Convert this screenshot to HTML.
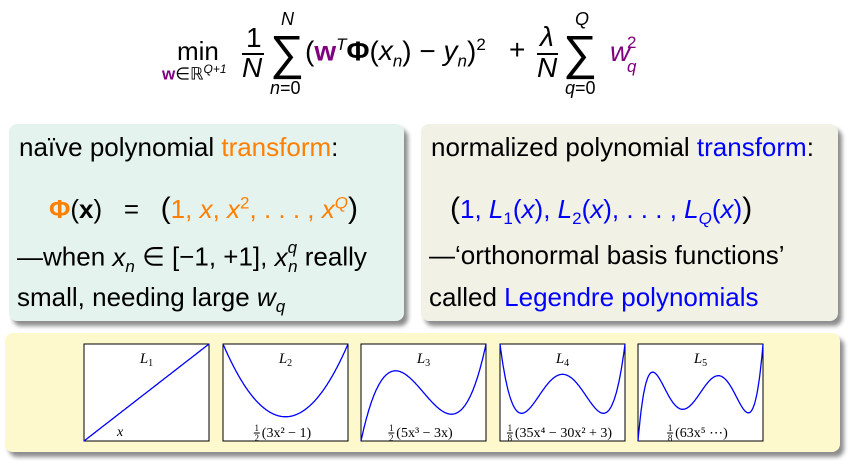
<!DOCTYPE html>
<html><head><meta charset="utf-8"><style>
body{margin:0;width:852px;height:468px;background:#fff;position:relative;overflow:hidden;font-family:"Liberation Sans",sans-serif;}
.a{position:absolute;white-space:nowrap;line-height:1;}
.f{font-size:28px;color:#000;}
.i{font-style:italic;}
.p{color:#800080;}
.o{color:#ff7f00;}
.b{color:#0000ff;}
.box{position:absolute;border-radius:8px;box-shadow:4px 5px 4px rgba(0,0,0,0.45);}
.t{font-size:26px;}
</style></head><body>
<div>
<span class="a" style="left:177px;top:38px;font-size:26px">min</span>
<span class="a" style="left:162px;top:63px;font-size:17px"><b class="p">w</b>∈ℝ<sup class="i" style="font-size:12px">Q+1</sup></span>
<span class="a f" style="left:246px;top:24px">1</span>
<div class="a" style="left:242px;top:53px;width:22px;height:1.5px;background:#000"></div>
<span class="a f i" style="left:242px;top:54px">N</span>
<span class="a" style="left:270px;top:30px;font-size:48px">∑</span>
<span class="a i" style="left:281px;top:10px;font-size:18px">N</span>
<span class="a" style="left:270px;top:79px;font-size:18px"><i>n</i>=0</span>
<span class="a f" style="left:305px;top:36px">(<b class="p">w</b><sup class="i" style="font-size:17px">T</sup><b>Φ</b>(<i>x<sub style="font-size:17px">n</sub></i>) − <i>y<sub style="font-size:17px">n</sub></i>)<sup style="font-size:17px">2</sup></span>
<span class="a f" style="left:509px;top:36px">+</span>
<span class="a f i" style="left:540px;top:23px">λ</span>
<div class="a" style="left:537px;top:53px;width:21px;height:1.5px;background:#000"></div>
<span class="a f i" style="left:537px;top:54px">N</span>
<span class="a" style="left:563px;top:30px;font-size:48px">∑</span>
<span class="a i" style="left:575px;top:10px;font-size:18px">Q</span>
<span class="a" style="left:565px;top:79px;font-size:18px"><i>q</i>=0</span>
<span class="a f i p" style="left:610px;top:38px">w</span>
<span class="a i p" style="left:627px;top:58px;font-size:17px">q</span>
<span class="a p" style="left:627px;top:34px;font-size:17px">2</span>
</div>

<div class="box" style="left:9px;top:124px;width:395px;height:197px;background:#e4f3ee">
<span class="a t" style="left:10px;top:10px">naïve polynomial <span class="o">transform</span>:</span>
<span class="a t" style="left:40px;top:70px"><b class="o">Φ</b>(<b>x</b>) &nbsp; = &nbsp; <span style="font-size:30px">(</span><span class="o">1, <i>x</i>, <i>x</i><sup style="font-size:17px">2</sup>, . . . , <i>x</i><sup class="i" style="font-size:17px">Q</sup></span><span style="font-size:30px">)</span></span>
<span class="a t" style="left:8px;top:118px">—when <i>x<sub style="font-size:17px">n</sub></i> ∈ [−1, +1], <i>x<sup style="font-size:17px;position:relative;top:-3px">q</sup></i><i style="font-size:17px;margin-left:-9px;position:relative;top:6px">n</i> really</span>
<span class="a t" style="left:8px;top:160px">small, needing large <i>w<sub style="font-size:17px">q</sub></i></span>
</div>

<div class="box" style="left:421px;top:124px;width:417px;height:197px;background:#f1f1e6">
<span class="a t" style="left:10px;top:10px">normalized polynomial <span class="b">transform</span>:</span>
<span class="a t" style="left:29px;top:70px"><span style="font-size:30px">(</span><span class="b">1, <i>L</i><sub style="font-size:17px">1</sub>(<i>x</i>), <i>L</i><sub style="font-size:17px">2</sub>(<i>x</i>), . . . , <i>L<sub style="font-size:17px">Q</sub></i>(<i>x</i>)</span><span style="font-size:30px">)</span></span>
<span class="a t" style="left:8px;top:118px">—‘orthonormal basis functions’</span>
<span class="a t" style="left:8px;top:160px">called <span class="b">Legendre polynomials</span></span>
</div>

<div class="box" style="left:5px;top:333px;width:835px;height:119px;background:#fdf9cd"></div>
<svg id="plots" width="852" height="468" style="position:absolute;left:0;top:0" font-family="Liberation Serif, serif"></svg>
<script>
const degrees=[1,2,3,4,5];
const titles=["L","L","L","L","L"];
const formulas=["x","(3x² − 1)","(5x³ − 3x)","(35x⁴ − 30x² + 3)","(63x⁵ ⋯)"];
const fracs=["","2","2","8","8"];
const coef=[[0,1],[-0.5,0,1.5],[0,-1.5,0,2.5],[0.375,0,-3.75,0,4.375],[0,1.875,0,-8.75,0,7.875]];
const lefts=[84,223,361,500,638];
const W=125,T=344,H=97;
const svg=document.getElementById('plots');
const NS='http://www.w3.org/2000/svg';
function P(c,x){let s=0;for(let k=c.length-1;k>=0;k--)s=s*x+c[k];return s;}
function sx(l,x){return l+(x+1)/2*W;}
function sy(y){return T+(1-y)/2*H;}
degrees.forEach((d,i)=>{
 const l=lefts[i];
 const r=document.createElementNS(NS,'rect');
 
 
 r.setAttribute('x',l);r.setAttribute('y',T);r.setAttribute('width',W);r.setAttribute('height',H);
 r.setAttribute('fill','#fff');r.setAttribute('stroke','#000');r.setAttribute('stroke-width','1');
 svg.appendChild(r);
 let pts=[];
 for(let j=0;j<=200;j++){const x=-1+j/100;pts.push(sx(l,x).toFixed(1)+','+sy(P(coef[i],x)).toFixed(1));}
 const pl=document.createElementNS(NS,'polyline');
 
 
 pl.setAttribute('points',pts.join(' '));
 pl.setAttribute('fill','none');pl.setAttribute('stroke','#0000ff');pl.setAttribute('stroke-width','1.3');
 svg.appendChild(pl);
 const t=document.createElementNS(NS,'text');
 
 
 t.setAttribute('x',l+W/2);t.setAttribute('y',363);t.setAttribute('text-anchor','middle');t.setAttribute('font-size','15');t.setAttribute('font-style','italic');
 t.innerHTML=titles[i]+'<tspan font-size="10" font-style="normal" dy="3">'+d+'</tspan>';
 svg.appendChild(t);
 if(d===1){
  const f=document.createElementNS(NS,'text');
  
  
  f.setAttribute('x',l+33);f.setAttribute('y',436);f.setAttribute('font-size','14');f.setAttribute('font-style','italic');
  f.textContent=formulas[i];
  svg.appendChild(f);
 } else {
  const g=document.createElementNS(NS,'text');
  
  
  g.setAttribute('y',437);g.setAttribute('font-size','14');
  g.textContent=formulas[i];
  svg.appendChild(g);
  const tw=g.getComputedTextLength()+8;
  const fx=l+W/2-3-tw/2;
  g.setAttribute('x',fx+8);
  const n=document.createElementNS(NS,'text');
  
  
  n.setAttribute('x',fx+3);n.setAttribute('y',431);n.setAttribute('font-size','9');n.setAttribute('text-anchor','middle');
  n.textContent='1';svg.appendChild(n);
  const bar=document.createElementNS(NS,'line');
  
  
  bar.setAttribute('x1',fx);bar.setAttribute('x2',fx+6);bar.setAttribute('y1',433);bar.setAttribute('y2',433);bar.setAttribute('stroke','#000');bar.setAttribute('stroke-width','1');
  svg.appendChild(bar);
  const dn=document.createElementNS(NS,'text');
  
  
  dn.setAttribute('x',fx+3);dn.setAttribute('y',441);dn.setAttribute('font-size','9');dn.setAttribute('text-anchor','middle');
  dn.textContent=fracs[i];svg.appendChild(dn);
 }
});
</script>
</body></html>
